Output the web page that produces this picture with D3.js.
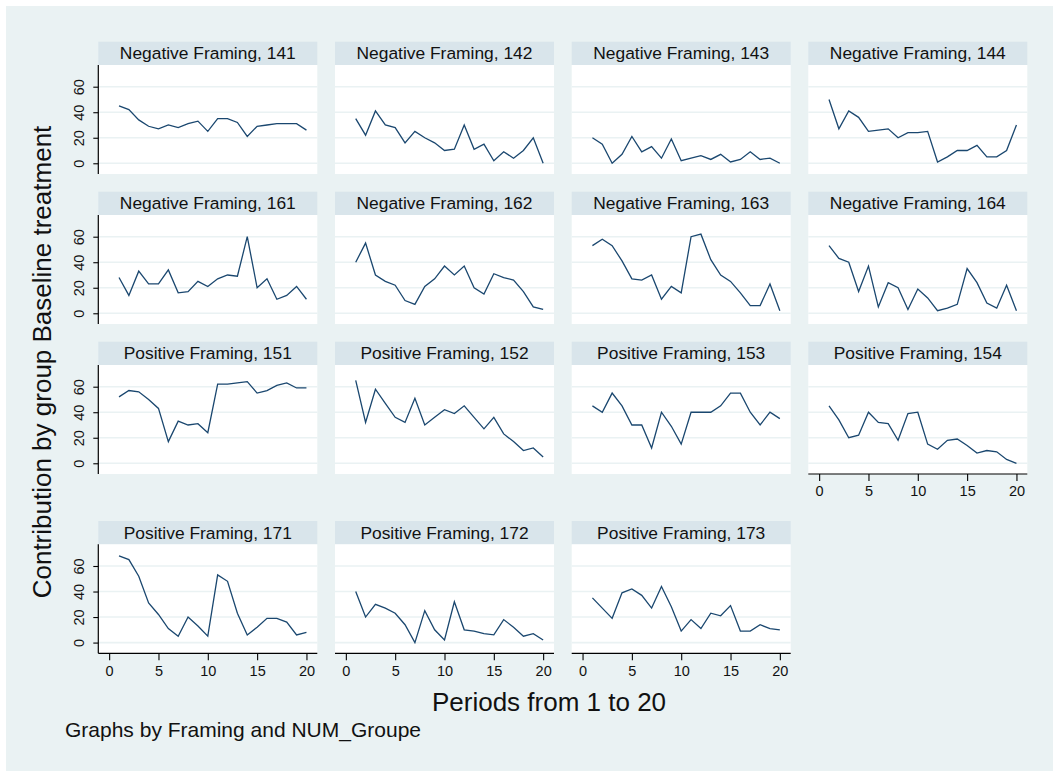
<!DOCTYPE html>
<html lang="en">

<head>
    <meta charset="UTF-8">
    <title>Contribution by group</title>
    <script src="https://d3js.org/d3.v7.min.js"></script>
    <style>
        * {
            margin: 0;
            padding: 0;
        }

        body {
            background: #fff;
        }

        text {
            font-family: Arial, "Liberation Sans", sans-serif;
            fill: #111;
        }
    </style>
</head>

<body>
    <script>
        // periods and axis ticks
        var periods = [1, 2, 3, 4, 5, 6, 7, 8, 9, 10, 11, 12, 13, 14, 15, 16, 17, 18, 19, 20];
        var xTicks = [0, 5, 10, 15, 20];
        var yTicks = [0, 20, 40, 60];

        // contribution by group
        var g141 = [45, 42, 34, 29, 27, 30, 28, 31, 33, 25, 35, 35, 32, 21, 29, 30, 31, 31, 31, 26];
        var g142 = [35, 22, 41, 30, 28, 16, 25, 20, 16, 10, 11, 30, 11, 15, 2, 9, 4, 10, 20, 0];
        var g143 = [20, 15, 0, 7, 21, 9, 13, 4, 19, 2, 4, 6, 3, 7, 1, 3, 9, 3, 4, 0];
        var g144 = [50, 27, 41, 36, 25, 26, 27, 20, 24, 24, 25, 1, 5, 10, 10, 14, 5, 5, 10, 30];
        var g161 = [28, 14, 33, 23, 23, 34, 16, 17, 25, 21, 27, 30, 29, 60, 20, 27, 11, 14, 21, 11];
        var g162 = [40, 55, 30, 25, 22, 10, 7, 21, 27, 37, 30, 37, 20, 15, 31, 28, 26, 17, 5, 3];
        var g163 = [53, 58, 53, 41, 27, 26, 30, 11, 21, 16, 60, 62, 42, 30, 25, 16, 6, 6, 23, 2];
        var g164 = [53, 43, 40, 17, 37, 5, 24, 20, 3, 19, 12, 2, 4, 7, 35, 24, 8, 4, 22, 2];
        var g151 = [52, 57, 56, 50, 43, 17, 33, 30, 31, 24, 62, 62, 63, 64, 55, 57, 61, 63, 59, 59];
        var g152 = [65, 32, 58, 47, 36, 32, 51, 30, 36, 42, 39, 45, 36, 27, 36, 23, 17, 10, 12, 5];
        var g153 = [45, 40, 55, 45, 30, 30, 12, 40, 29, 15, 40, 40, 40, 45, 55, 55, 40, 30, 40, 35];
        var g154 = [45, 34, 20, 22, 40, 32, 31, 18, 39, 40, 15, 11, 18, 19, 14, 8, 10, 9, 3, 0];
        var g171 = [68, 65, 52, 31, 22, 11, 5, 20, 13, 5, 53, 48, 23, 6, 12, 19, 19, 16, 6, 8];
        var g172 = [40, 20, 30, 27, 23, 14, 0, 25, 10, 2, 32, 10, 9, 7, 6, 18, 12, 5, 7, 2];
        var g173 = [35, 27, 19, 39, 42, 37, 27, 44, 28, 9, 18, 11, 23, 21, 29, 9, 9, 14, 11, 10];

        var panelTitles = [
            "Negative Framing, 141", "Negative Framing, 142", "Negative Framing, 143", "Negative Framing, 144",
            "Negative Framing, 161", "Negative Framing, 162", "Negative Framing, 163", "Negative Framing, 164",
            "Positive Framing, 151", "Positive Framing, 152", "Positive Framing, 153", "Positive Framing, 154",
            "Positive Framing, 171", "Positive Framing, 172", "Positive Framing, 173"
        ];
        var panelValues = [g141, g142, g143, g144, g161, g162, g163, g164,
            g151, g152, g153, g154, g171, g172, g173];

        var width = 1053, height = 771;
        var colLeft = [98.3, 335, 571.7, 808.3];
        var rowTop = [41.7, 191.7, 341.7, 521];
        var panelW = 219, stripH = 23.3, plotH = 109;
        var nCols = 4;

        var svg = d3.select("body")
            .append("svg")
            .attr("width", width)
            .attr("height", height);

        svg.append("rect")
            .attr("x", 6)
            .attr("y", 6)
            .attr("width", width - 6)
            .attr("height", height - 6)
            .attr("fill", "#eaf2f3");

        var xScale = d3.scaleLinear().domain([-1.1, 21.1]).range([0, panelW]);
        var yScale = d3.scaleLinear().domain([-8.4, 77]).range([plotH, 0]);

        var line = d3.line()
            .x(function (d, i) { return xScale(periods[i]); })
            .y(function (d) { return yScale(d); });

        panelTitles.forEach(function (title, k) {
            var col = k % nCols, row = Math.floor(k / nCols);
            var g = svg.append("g")
                .attr("transform", "translate(" + colLeft[col] + "," + rowTop[row] + ")");

            // strip
            g.append("rect")
                .attr("width", panelW)
                .attr("height", stripH)
                .attr("fill", "#d9e5eb");
            g.append("text")
                .attr("x", panelW / 2)
                .attr("y", stripH / 2 + 6)
                .attr("text-anchor", "middle")
                .attr("font-size", "17.4px")
                .text(title);

            var plot = g.append("g").attr("transform", "translate(0," + stripH + ")");
            plot.append("rect")
                .attr("width", panelW)
                .attr("height", plotH)
                .attr("fill", "#fff");

            // gridlines
            plot.selectAll(".grid")
                .data(yTicks)
                .enter()
                .append("line")
                .attr("x1", 0)
                .attr("x2", panelW)
                .attr("y1", function (d) { return yScale(d); })
                .attr("y2", function (d) { return yScale(d); })
                .attr("stroke", "#eaf2f3")
                .attr("stroke-width", 1.6);

            plot.append("path")
                .datum(panelValues[k])
                .attr("d", line)
                .attr("fill", "none")
                .attr("stroke", "#1a476f")
                .attr("stroke-width", 1.3)
                .attr("stroke-linejoin", "miter");

            // y axis on first column
            if (col === 0) {
                var yAxis = plot.append("g")
                    .call(d3.axisLeft(yScale).tickValues(yTicks).tickSize(5).tickSizeOuter(0));
                yAxis.select(".domain").attr("stroke", "#000").attr("stroke-width", 1.2)
                    .attr("d", "M0,0V" + plotH);
                yAxis.selectAll(".tick line").attr("stroke", "#000").attr("stroke-width", 1.1);
                yAxis.selectAll(".tick text")
                    .attr("x", null)
                    .attr("dy", null)
                    .attr("transform", "translate(-14,0) rotate(-90)")
                    .attr("text-anchor", "middle")
                    .attr("font-size", "14.5px")
                    .attr("font-family", null)
                    .attr("fill", "#111");
            }

            // x axis where there is no panel below
            if (k + nCols >= panelTitles.length) {
                var xAxis = plot.append("g")
                    .attr("transform", "translate(0," + plotH + ")")
                    .call(d3.axisBottom(xScale).tickValues(xTicks).tickSize(7).tickSizeOuter(0).tickPadding(5));
                xAxis.select(".domain").attr("stroke", "#000").attr("stroke-width", 1.2)
                    .attr("d", "M0,0H" + panelW);
                xAxis.selectAll(".tick line").attr("stroke", "#000").attr("stroke-width", 1.1);
                xAxis.selectAll(".tick text")
                    .attr("font-size", "14.5px")
                    .attr("font-family", null)
                    .attr("fill", "#111");
            }
        });

        // axis titles and note
        svg.append("text")
            .attr("transform", "translate(51,362) rotate(-90)")
            .attr("text-anchor", "middle")
            .attr("font-size", "26px")
            .text("Contribution by group Baseline treatment");

        svg.append("text")
            .attr("x", 549)
            .attr("y", 711)
            .attr("text-anchor", "middle")
            .attr("font-size", "26px")
            .text("Periods from 1 to 20");

        svg.append("text")
            .attr("x", 65)
            .attr("y", 737)
            .attr("font-size", "21px")
            .text("Graphs by Framing and NUM_Groupe");
    </script>
</body>

</html>
